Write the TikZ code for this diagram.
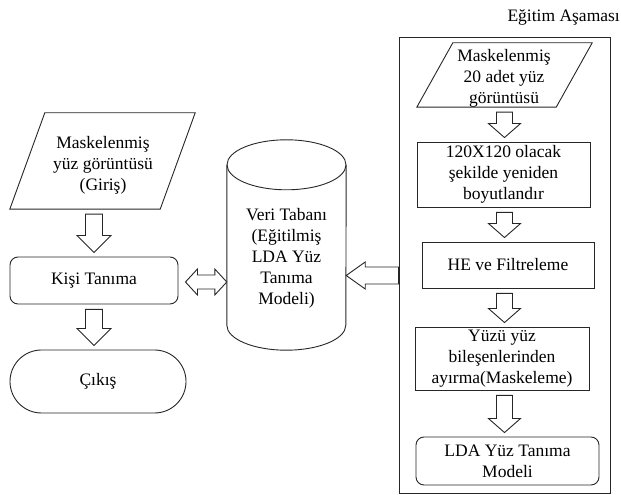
\documentclass[tikz,border=0pt]{standalone}
\usepackage{fontspec}
\setmainfont{Liberation Serif}
\usetikzlibrary{calc,shapes.misc}

\tikzset{
  every node/.style={font=\fontsize{17.5}{21}\selectfont, inner sep=0pt, align=center},
  outline/.style={draw=black!85, line width=0.9pt},
  box/.style={outline, rectangle},
  roundbox/.style={outline, rectangle, rounded corners=8pt},
  stadium/.style={outline, rounded rectangle},
  hidden/.style={rectangle},
  blk/.style={draw=black!85, line width=0.9pt, fill=white, line join=miter},
}

% hollow block arrow pointing down, drawn between two nodes
% #1 x reference, #2 upper node, #3 lower node, #4 half shaft width, #5 head length
\newcommand\blkdown[5]{%
  \draw[blk] let \p1=(#1), \p2=($(#2.south)+(0,-5)$), \p3=($(#3.north)+(0,4)$) in
    (\x1-#4,\y2) -- (\x1+#4,\y2) -- (\x1+#4,\y3+#5) -- (\x1+2*#4,\y3+#5) --
    (\x1,\y3) -- (\x1-2*#4,\y3+#5) -- (\x1-#4,\y3+#5) -- cycle;}

% parallelogram drawn round a hidden node, #2 = horizontal slant
\newcommand\slantbox[2]{%
  \draw[outline] (#1.south west) -- ($(#1.south east)+(-#2,0)$) --
    (#1.north east) -- ($(#1.north west)+(#2,0)$) -- cycle;}

\begin{document}
\begin{tikzpicture}[x=1pt,y=1pt]
\useasboundingbox (0,0) rectangle (621,495);

% ---- recognition side ----
\node[hidden, minimum width=185, minimum height=96] (inp) at (102.5,334) {};
\slantbox{inp}{35}
\node at (103,330) {Maskelenmiş\\yüz görüntüsü\\(Giriş)};

\node[roundbox, minimum width=168, minimum height=47] (kisi) at (94,214.5) {Kişi Tanıma};
\node[stadium, minimum width=176, minimum height=63] (cikis) at (98,113.5) {Çıkış};

\blkdown{kisi}{inp}{kisi}{8.5pt}{17pt}
\blkdown{kisi}{kisi}{cikis}{8.5pt}{17pt}

% ---- database cylinder ----
\node[hidden, minimum width=119, minimum height=210] (db) at (286.5,250) {};
\draw[outline] ($(db.north west)+(0,-25)$) -- ($(db.south west)+(0,25)$)
  arc[start angle=180, end angle=360, x radius=59.5pt, y radius=25pt]
  -- ($(db.north east)+(0,-25)$);
\draw[outline] ($(db.north)+(0,-25)$) ellipse [x radius=59.5pt, y radius=25pt];
\node (dbtext) at ($(db.center)+(0,-13)$) {Veri Tabanı\\(Eğitilmiş\\LDA Yüz\\Tanıma\\Modeli)};

% two-way arrow between recognition and database
\draw[blk] let \p1=($(kisi.east)+(7,-1.5)$), \p2=($(kisi.east -| db.west)+(0,-1.5)$) in
  (\x1,\y1) -- (\x1+12pt,\y1+13pt) -- (\x1+12pt,\y1+7pt) -- (\x2-12pt,\y1+7pt) --
  (\x2-12pt,\y1+13pt) -- (\x2,\y1) -- (\x2-12pt,\y1-13pt) -- (\x2-12pt,\y1-7pt) --
  (\x1+12pt,\y1-7pt) -- (\x1+12pt,\y1-13pt) -- cycle;

% ---- training stage ----
\node[box, minimum width=211, minimum height=456] (train) at (504.5,230) {};
\node[anchor=east] (title) at (620,478) {Eğitim Aşaması};

\node[hidden, minimum width=175, minimum height=64] (p2) at (504.5,420) {};
\slantbox{p2}{36}
\node at (504,417) {Maskelenmiş\\20 adet yüz\\görüntüsü};

\node[box, minimum width=173, minimum height=65] (res) at (503.5,320.5) {120X120 olacak\\şekilde yeniden\\boyutlandır};
\node[box, minimum width=172, minimum height=46] (he) at (508,230) {HE ve Filtreleme};
\node[box, minimum width=174, minimum height=63] (mask) at (502,136.5) {Yüzü yüz\\bileşenlerinden\\ayırma(Maskeleme)};
\node[roundbox, minimum width=183, minimum height=48] (lda) at (507.5,34) {LDA Yüz Tanıma\\Modeli};

\blkdown{train}{p2}{res}{8pt}{14pt}
\blkdown{train}{res}{he}{8pt}{14pt}
\blkdown{train}{he}{mask}{8pt}{14pt}
\blkdown{train}{mask}{lda}{8pt}{14pt}

% trained model goes into the database
\coordinate (dbin) at ($(db.east)+(0,-30.5)$);
\draw[blk] let \p1=(dbin), \p2=(dbin -| train.west) in
  (\x1,\y1) -- (\x1+19pt,\y1+13.5pt) -- (\x1+19pt,\y1+8.5pt) -- (\x2,\y1+8.5pt) --
  (\x2,\y1-8.5pt) -- (\x1+19pt,\y1-8.5pt) -- (\x1+19pt,\y1-13.5pt) -- cycle;
\end{tikzpicture}
\end{document}
